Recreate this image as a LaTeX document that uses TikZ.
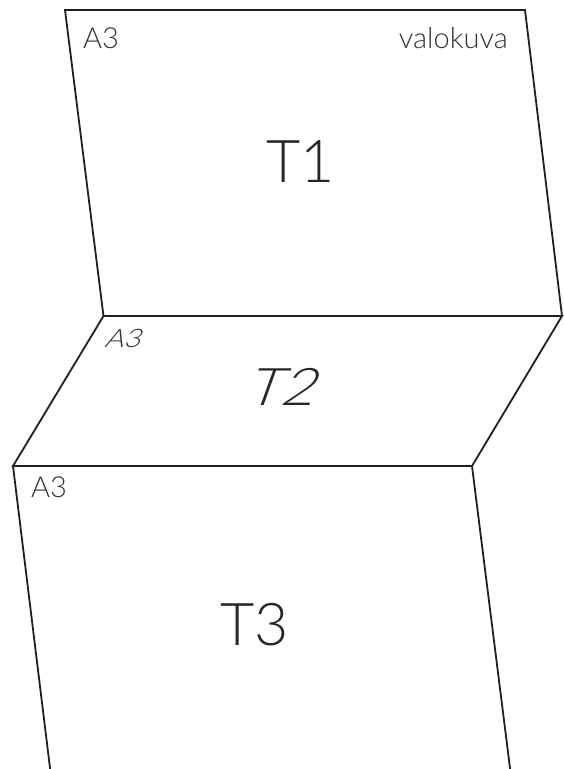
\documentclass[tikz,border=0pt]{standalone}
\usepackage{fontspec}
\setmainfont{Lato Light}
\begin{document}
\begin{tikzpicture}[x=1pt,y=-1pt,
  edge/.style={line width=1.8pt,draw=black!88,line join=miter},
  small/.style={inner sep=0pt,text=black!80,font=\fontsize{29}{30}\selectfont},
  big/.style={inner sep=0pt,text=black!85,font=\fontsize{59}{60}\selectfont},
  slanted/.style={xslant=0.36,yscale=0.88,transform shape}]
\useasboundingbox (0,0) rectangle (563,769);
% corners
\coordinate (A) at (65,10);
\coordinate (B) at (525,10);
\coordinate (C) at (562,316);
\coordinate (D) at (103.5,316);
\coordinate (E) at (13,466);
\coordinate (F) at (472,466);
\coordinate (G) at (50.5,772);
\coordinate (H) at (510.5,772);
% panels
\draw[edge] (D) -- (A) -- (B) -- (C);
\draw[edge] (D) -- (C) -- (F) -- (E) -- cycle;
\draw[edge] (G) -- (E) -- (F) -- (H);
% labels
\node[small,anchor=base west] (a1) at (83,48) {A3};
\node[small,anchor=base east] (v) at (508,48) {valokuva};
\node[big,anchor=base] (t1) at (301,182) {T1};
\node[small,slanted,anchor=base west] (a2) at (104,347) {A3};
\node[big,slanted,anchor=base] (t2) at (280,405) {T2};
\node[small,anchor=base west] (a3) at (31,497) {A3};
\node[big,anchor=base] (t3) at (255,645) {T3};
\end{tikzpicture}
\end{document}
